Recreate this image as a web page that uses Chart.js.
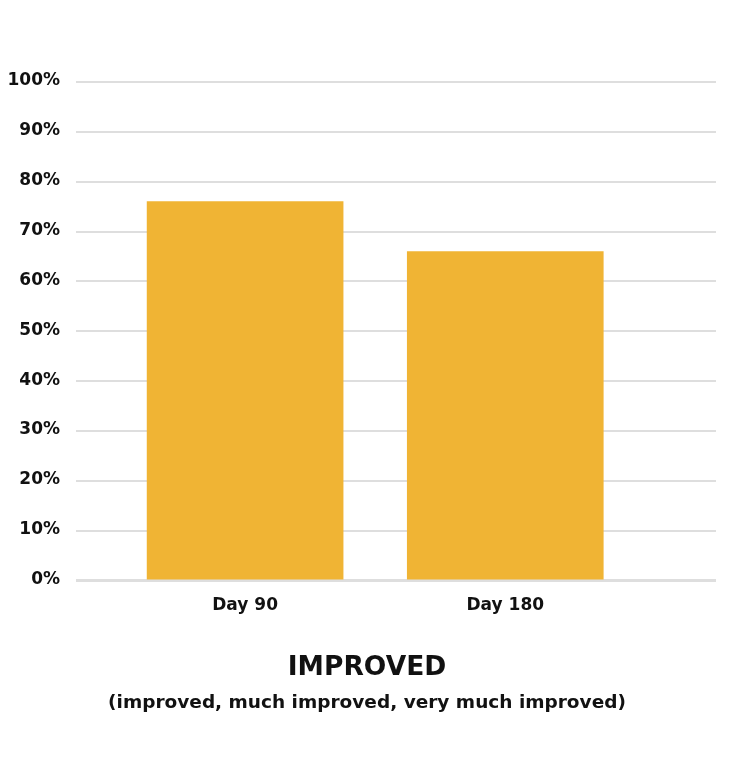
<!DOCTYPE html>
<html>
<head>
<meta charset="utf-8">
<script src="https://cdn.jsdelivr.net/npm/chart.js@4.4.1/dist/chart.umd.min.js"></script>
<style>
  html, body { margin: 0; padding: 0; background: #fff; }
  #wrap { width: 740px; height: 758px; }
</style>
</head>
<body>
<div id="wrap"><canvas id="chart" width="740" height="758"></canvas></div>
<script>
// values
const categories = ['Day 90', 'Day 180'];
const improved = [76, 66];
const yTicks = [0, 10, 20, 30, 40, 50, 60, 70, 80, 90, 100];

const barColor = '#F0B434';
const gridColor = '#DEDEDE';
const textColor = '#111111';
const fontFamily = '"DejaVu Sans", sans-serif';

// bars sit on a numeric x axis so their positions match the original layout
const points = categories.map((c, i) => ({ x: i + 1, y: improved[i] }));

new Chart(document.getElementById('chart'), {
    type: 'bar',
    data: {
        datasets: [{
            label: 'Improved',
            data: points,
            backgroundColor: barColor,
            borderWidth: 0,
            barThickness: 196
        }]
    },
    options: {
        responsive: false,
        animation: false,
        layout: { padding: { top: 82, right: 6, bottom: 0, left: 0 } },
        plugins: {
            legend: { display: false },
            tooltip: { enabled: false },
            title: {
                display: true,
                position: 'bottom',
                text: 'IMPROVED',
                color: textColor,
                weight: 1000,
                font: { family: fontFamily, size: 26.5, weight: 'bold' },
                padding: { top: 21, bottom: 1 }
            },
            subtitle: {
                display: true,
                position: 'bottom',
                text: '(improved, much improved, very much improved)',
                color: textColor,
                weight: 2000,
                font: { family: fontFamily, size: 18.5, weight: 'bold' },
                padding: { top: 7, bottom: 44 }
            }
        },
        scales: {
            x: {
                type: 'linear',
                offset: false,
                min: 0.35,
                max: 2.81,
                grid: { display: false, drawTicks: false },
                border: { display: false },
                afterBuildTicks: (scale) => {
                    scale.ticks = categories.map((c, i) => ({ value: i + 1 }));
                },
                ticks: {
                    color: textColor,
                    padding: 15,
                    font: { family: fontFamily, size: 17, weight: 'bold' },
                    callback: (v) => categories[v - 1] || ''
                }
            },
            y: {
                min: 0,
                max: 100,
                afterFit: (scale) => { scale.width = 76; },
                afterBuildTicks: (scale) => {
                    scale.ticks = yTicks.map(v => ({ value: v }));
                },
                grid: {
                    color: gridColor,
                    drawTicks: false,
                    lineWidth: (ctx) => ctx.tick && ctx.tick.value === 0 ? 3 : 2
                },
                border: { display: false },
                ticks: {
                    color: textColor,
                    padding: 16,
                    labelOffset: -1,
                    font: { family: fontFamily, size: 17, weight: 'bold' },
                    callback: (v) => v + '%'
                }
            },
            // empty right-hand margin so the titles sit where the original has them
            yRight: {
                position: 'right',
                grid: { display: false, drawTicks: false },
                border: { display: false },
                ticks: { display: false },
                afterFit: (scale) => { scale.width = 18; }
            }
        }
    }
});
</script>
</body>
</html>
